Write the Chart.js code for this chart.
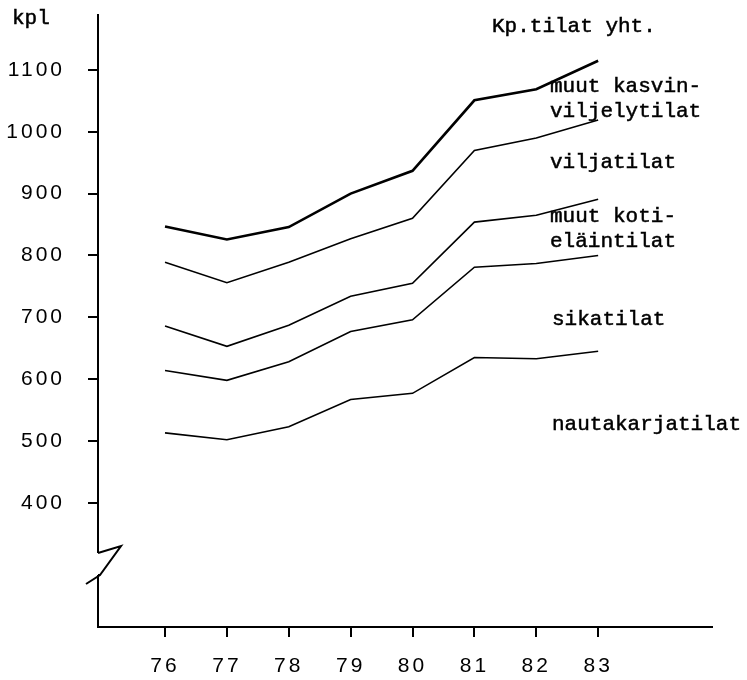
<!DOCTYPE html>
<html>
<head>
<meta charset="utf-8">
<script src="https://cdn.jsdelivr.net/npm/chart.js@4.4.0/dist/chart.umd.min.js"></script>
<style>
    html, body { margin: 0; padding: 0; background: #fff; }
    #wrap { width: 747px; height: 680px; position: relative; }
</style>
</head>
<body>
<div id="wrap"><canvas id="farmChart"></canvas></div>
<script>
// Tilat lukumäärä vuosittain, kumulatiiviset rajaviivat
const years = [76, 77, 78, 79, 80, 81, 82, 83];
const yTicks = [400, 500, 600, 700, 800, 900, 1000, 1100];

const totalFarms   = [847, 826, 846, 900, 937, 1051, 1069, 1115]; // Kp.tilat yht.
const grainUpper   = [789, 756, 789, 827, 860, 970, 990, 1019];
const grainLower   = [686, 653, 687, 734, 755, 854, 865, 891];
const pigUpper     = [614, 598, 628, 677, 696, 781, 787, 800];
const cattleUpper  = [513, 502, 523, 567, 577, 635, 633, 645];

const seriesLines = [totalFarms, grainUpper, grainLower, pigUpper, cattleUpper];
const seriesNames = ['Kp.tilat yht.', 'muut kasvinviljelytilat', 'viljatilat', 'muut kotieläintilat', 'sikatilat'];

// Tekstit oikealla puolella
const bandLabels = [
    ['Kp.tilat yht.'],
    ['muut kasvin-', 'viljelytilat'],
    ['viljatilat'],
    ['muut koti-', 'eläintilat'],
    ['sikatilat'],
    ['nautakarjatilat']
];

const labelSpots = [
    { x: 492, y: [32] },
    { x: 550, y: [92, 117] },
    { x: 550, y: [168] },
    { x: 550, y: [222, 247] },
    { x: 552, y: [325] },
    { x: 552, y: [430] }
];

const typewriterPlugin = {
    id: 'typewriter',
    beforeDraw(chart) {
        chart.ctx.letterSpacing = '3px';
    },
    afterDraw(chart) {
        const ctx = chart.ctx;
        const area = chart.chartArea;
        ctx.save();
        ctx.letterSpacing = '0px';

        // axis break on the y axis
        ctx.fillStyle = '#fff';
        ctx.fillRect(area.left - 3, 553, 10, 22);
        ctx.strokeStyle = '#000';
        ctx.lineWidth = 2;
        ctx.lineJoin = 'miter';
        ctx.beginPath();
        ctx.moveTo(area.left, 553);
        ctx.lineTo(area.left + 23, 546);
        ctx.lineTo(area.left + 2, 575);
        ctx.lineTo(area.left - 12, 584);
        ctx.moveTo(area.left + 2, 575);
        ctx.lineTo(area.left, 575);
        ctx.stroke();

        // unit and band names, typewriter style
        ctx.fillStyle = '#000';
        ctx.lineWidth = 0.5;
        ctx.font = '21px "Liberation Mono", monospace';
        ctx.textBaseline = 'alphabetic';
        ctx.textAlign = 'left';
        const put = (t, x, y) => { ctx.fillText(t, x, y); ctx.strokeText(t, x, y); };
        put('kpl', 12, 24);

        bandLabels.forEach((lines, i) => {
            const spot = labelSpots[i];
            lines.forEach((t, j) => put(t, spot.x, spot.y[j]));
        });
        ctx.restore();
    }
};

const datasets = seriesLines.map((vals, i) => ({
    label: seriesNames[i],
    data: years.map((yr, k) => ({ x: yr, y: vals[k] })),
    borderColor: '#000',
    borderWidth: i === 0 ? 2.6 : 1.6,
    pointRadius: 0,
    tension: 0,
    fill: false
}));

function noEdgePadding(scale) {
    scale.paddingTop = 0;
    scale.paddingBottom = 0;
    scale.paddingLeft = 0;
    scale.paddingRight = 0;
}

new Chart(document.getElementById('farmChart'), {
    type: 'line',
    data: { datasets },
    options: {
        responsive: true,
        maintainAspectRatio: false,
        animation: false,
        layout: { padding: { left: 0, top: 15, right: 35, bottom: 0 } },
        plugins: {
            legend: { display: false },
            tooltip: { enabled: false }
        },
        scales: {
            x: {
                type: 'linear',
                min: 74.917,
                max: 84.84,
                afterBuildTicks: (scale) => { scale.ticks = years.map(v => ({ value: v })); },
                afterFit: (scale) => { scale.height = 53; noEdgePadding(scale); },
                grid: { drawOnChartArea: false, drawTicks: true, tickLength: 10, color: '#000', lineWidth: 2 },
                border: { display: true, color: '#000', width: 2 },
                ticks: {
                    color: '#000',
                    padding: 17,
                    maxRotation: 0,
                    font: { family: '"Liberation Sans", Arial, sans-serif', size: 21 },
                    callback: (v) => String(v)
                }
            },
            y: {
                type: 'linear',
                min: 199,
                max: 1189,
                afterBuildTicks: (scale) => { scale.ticks = yTicks.map(v => ({ value: v })); },
                afterFit: (scale) => { scale.width = 98; noEdgePadding(scale); },
                grid: { drawOnChartArea: false, drawTicks: true, tickLength: 10, color: '#000', lineWidth: 2 },
                border: { display: true, color: '#000', width: 2 },
                ticks: {
                    color: '#000',
                    padding: 23,
                    font: { family: '"Liberation Sans", Arial, sans-serif', size: 21 },
                    callback: (v) => String(v)
                }
            }
        }
    },
    plugins: [typewriterPlugin]
});
</script>
</body>
</html>
